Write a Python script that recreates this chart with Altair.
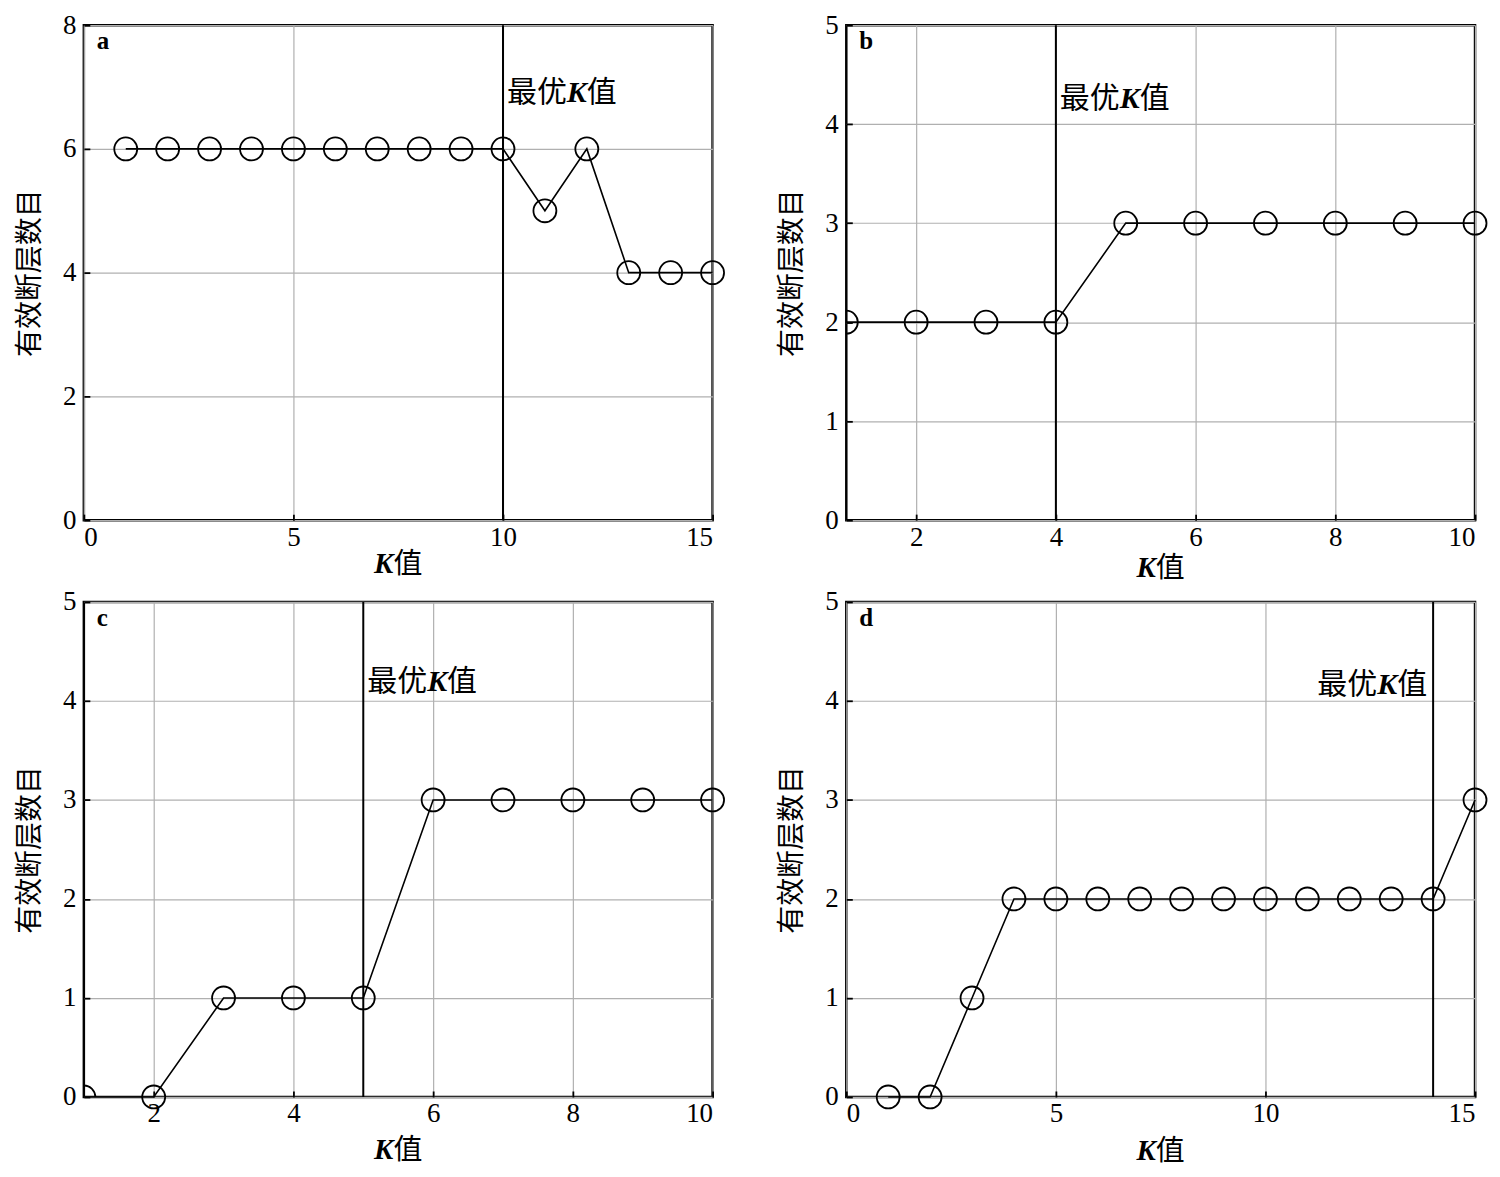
import altair as alt
import pandas as pd

SERIF = "Liberation Serif"
CJK = "Noto Sans CJK SC"

# ---- data ----
k_a = list(range(1, 16))
v_a = [6, 6, 6, 6, 6, 6, 6, 6, 6, 6, 5, 6, 4, 4, 4]
opt_a = 10

k_b = list(range(1, 11))
v_b = [2, 2, 2, 2, 3, 3, 3, 3, 3, 3]
opt_b = 4

k_c = list(range(1, 11))
v_c = [0, 0, 1, 1, 1, 3, 3, 3, 3, 3]
opt_c = 5

k_d = list(range(1, 16))
v_d = [0, 0, 1, 2, 2, 2, 2, 2, 2, 2, 2, 2, 2, 2, 3]
opt_d = 14

x_ticks_15 = [0, 5, 10, 15]
x_ticks_10 = [2, 4, 6, 8, 10]
y_ticks_8 = [0, 2, 4, 6, 8]
y_ticks_5 = [0, 1, 2, 3, 4, 5]

W, H = 630, 496
LBL = 30   # annotation font size
TTL = 29   # x title font size
TICK = 27  # tick label font size
TK = 6     # inward tick length


def rich_text(data, x_enc, y_px, pieces, start_dx):
    layers = []
    dx = start_dx
    for txt, font, weight, style, w, size in pieces:
        layers.append(
            alt.Chart(data).mark_text(
                text=txt, font=font, fontWeight=weight, fontStyle=style,
                fontSize=size, align="left", baseline="middle", dx=dx,
                color="black",
            ).encode(x=x_enc, y=alt.value(y_px))
        )
        dx += w
    return layers


def panel(k, v, opt, xdom, xticks, ydom, yticks, letter, right_label,
          label_y, xtitle_dy):
    df = pd.DataFrame({"K": k, "N": v})
    xs = alt.Scale(domain=xdom, nice=False, zero=False)
    ys = alt.Scale(domain=ydom, nice=False, zero=False)
    x = alt.X("K:Q", scale=xs,
              axis=alt.Axis(values=xticks, title=None, labelPadding=4,
                            format="d", offset=-TK, ticks=True, tickSize=TK))
    y = alt.Y("N:Q", scale=ys,
              axis=alt.Axis(values=yticks, title="有效断层数目",
                            labelPadding=8, titlePadding=18, format="d",
                            offset=-TK, ticks=True, tickSize=TK))
    line = alt.Chart(df).mark_line(color="black", strokeWidth=1.6).encode(x=x, y=y)
    pts = alt.Chart(df).mark_point(
        shape="circle", size=530, filled=False, color="black",
        strokeWidth=1.8, opacity=1,
    ).encode(x=x, y=y).transform_filter(alt.datum.K > xdom[0])
    pts_edge = alt.Chart(df).mark_point(
        shape="circle", size=530, filled=False, color="black",
        strokeWidth=1.8, opacity=1, clip=True,
    ).encode(x=x, y=y).transform_filter(alt.datum.K == xdom[0])

    odf = pd.DataFrame({"K": [opt]})
    rule = alt.Chart(odf).mark_rule(color="black", strokeWidth=2).encode(x="K:Q")

    w_cjk = LBL
    w_k = 0.667 * LBL
    pieces = [
        ("最", CJK, "normal", "normal", w_cjk, LBL),
        ("优", CJK, "normal", "normal", w_cjk, LBL),
        ("K", SERIF, "bold", "italic", w_k, LBL),
        ("值", CJK, "normal", "normal", w_cjk, LBL),
    ]
    total = 3 * w_cjk + w_k
    start = -6 - total if right_label else 4
    ann = rich_text(odf, alt.X("K:Q"), label_y, pieces, start)

    # x title "K值"
    tdf = pd.DataFrame({"t": [0]})
    wk2 = 0.667 * TTL
    tpieces = [
        ("K", SERIF, "bold", "italic", wk2, TTL),
        ("值", CJK, "normal", "normal", TTL, TTL),
    ]
    tstart = W / 2 - (wk2 + TTL) / 2
    xt = []
    dxx = 0
    for txt, font, weight, style, w, size in tpieces:
        xt.append(
            alt.Chart(tdf).mark_text(
                text=txt, font=font, fontWeight=weight, fontStyle=style,
                fontSize=size, align="left", baseline="middle", color="black",
            ).encode(x=alt.value(tstart + dxx), y=alt.value(H + xtitle_dy))
        )
        dxx += w

    letter_mark = alt.Chart(tdf).mark_text(
        text=letter, font=SERIF, fontWeight="bold", fontSize=25,
        align="left", baseline="alphabetic", color="black",
    ).encode(x=alt.value(13), y=alt.value(24))

    return alt.layer(line, rule, pts, pts_edge, *ann, *xt, letter_mark).properties(
        width=W, height=H
    )


pa = panel(k_a, v_a, opt_a, [0, 15], x_ticks_15, [0, 8], y_ticks_8, "a", False, 68, 44)
pb = panel(k_b, v_b, opt_b, [1, 10], x_ticks_10, [0, 5], y_ticks_5, "b", False, 74, 48)
pc = panel(k_c, v_c, opt_c, [1, 10], x_ticks_10, [0, 5], y_ticks_5, "c", False, 80, 53)
pd_ = panel(k_d, v_d, opt_d, [0, 15], x_ticks_15, [0, 5], y_ticks_5, "d", True, 83, 54)

chart = alt.concat(
    pa, pb, pc, pd_, columns=2,
    bounds="flush",
    spacing={"row": 82, "column": 134},
    padding={"left": 7, "top": 0, "right": 0, "bottom": 0},
).configure_view(
    stroke="black", strokeWidth=2.5
).configure_axis(
    labelFont=SERIF, labelFontSize=TICK, labelColor="black",
    titleFont=CJK, titleFontSize=28, titleFontWeight="normal", titleColor="black",
    grid=True, gridColor="#b0b0b0", gridWidth=1.2,
    domain=False, tickColor="black", tickWidth=1.8,
)

chart.save("out.html", embed_options={"renderer": "svg", "actions": False})
